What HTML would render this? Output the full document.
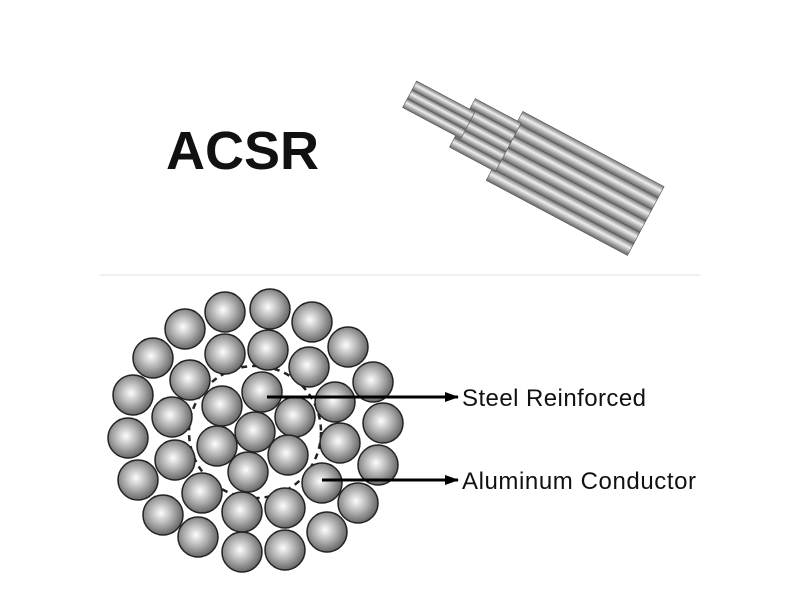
<!DOCTYPE html>
<html><head><style>
body{margin:0;width:800px;height:600px;background:#fff;overflow:hidden;font-family:"Liberation Sans",sans-serif;position:relative}
</style></head><body>
<div style="position:absolute;left:166px;top:120px;font-size:54px;font-weight:bold;color:#111;letter-spacing:0px">ACSR</div>
<svg width="800" height="600" style="position:absolute;left:0;top:0">
<defs>
<radialGradient id="g" cx="45%" cy="45%" r="60%"><stop offset="0" stop-color="#fdfdfd"/><stop offset="0.5" stop-color="#aeaeae"/><stop offset="1" stop-color="#5a5a5a"/></radialGradient>
<linearGradient id="w" x1="0" y1="0" x2="0" y2="1"><stop offset="0" stop-color="#777"/><stop offset="0.4" stop-color="#eee"/><stop offset="1" stop-color="#666"/></linearGradient>
<marker id="a" markerWidth="14" markerHeight="10" refX="13" refY="5" orient="auto" markerUnits="userSpaceOnUse"><path d="M0,0L14,5L0,10z" fill="#000"/></marker>
</defs>
<line x1="100" y1="275" x2="700" y2="275" stroke="#f0f0f0" stroke-width="2"/>
<g transform="translate(-15,-5) rotate(28 520 150)">
<g fill="url(#w)" stroke="#555" stroke-width="0.6">
<rect x="520" y="112" width="160" height="13"/><rect x="520" y="125" width="160" height="13"/><rect x="520" y="138" width="160" height="13"/><rect x="520" y="151" width="160" height="13"/><rect x="520" y="164" width="160" height="13"/><rect x="520" y="177" width="160" height="13"/>
<rect x="472" y="123" width="52" height="11"/><rect x="472" y="134" width="52" height="11"/><rect x="472" y="145" width="52" height="11"/><rect x="472" y="156" width="52" height="11"/><rect x="472" y="167" width="52" height="11"/>
<rect x="412" y="135" width="66" height="10"/><rect x="412" y="145" width="66" height="10"/><rect x="412" y="155" width="66" height="10"/>
</g></g>
<circle cx="255" cy="432" r="66" fill="none" stroke="#222" stroke-width="2.5" stroke-dasharray="6,5"/>
<g fill="url(#g)" stroke="#222" stroke-width="1.5">
<circle cx="225" cy="312" r="20"/><circle cx="270" cy="309" r="20"/><circle cx="312" cy="322" r="20"/><circle cx="348" cy="347" r="20"/><circle cx="373" cy="382" r="20"/><circle cx="383" cy="423" r="20"/><circle cx="378" cy="465" r="20"/><circle cx="358" cy="503" r="20"/><circle cx="327" cy="532" r="20"/><circle cx="285" cy="550" r="20"/><circle cx="242" cy="552" r="20"/><circle cx="198" cy="537" r="20"/><circle cx="163" cy="515" r="20"/><circle cx="138" cy="480" r="20"/><circle cx="128" cy="438" r="20"/><circle cx="133" cy="395" r="20"/><circle cx="153" cy="358" r="20"/><circle cx="185" cy="329" r="20"/>
<circle cx="225" cy="354" r="20"/><circle cx="268" cy="350" r="20"/><circle cx="309" cy="367" r="20"/><circle cx="335" cy="402" r="20"/><circle cx="340" cy="443" r="20"/><circle cx="322" cy="483" r="20"/><circle cx="285" cy="508" r="20"/><circle cx="242" cy="512" r="20"/><circle cx="202" cy="493" r="20"/><circle cx="175" cy="460" r="20"/><circle cx="172" cy="417" r="20"/><circle cx="190" cy="380" r="20"/>
<circle cx="262" cy="392" r="20"/><circle cx="222" cy="406" r="20"/><circle cx="295" cy="417" r="20"/><circle cx="255" cy="432" r="20"/><circle cx="217" cy="446" r="20"/><circle cx="288" cy="455" r="20"/><circle cx="248" cy="472" r="20"/>
</g>
<line x1="267" y1="397" x2="458" y2="397" stroke="#000" stroke-width="3" marker-end="url(#a)"/>
<line x1="322" y1="480" x2="458" y2="480" stroke="#000" stroke-width="3" marker-end="url(#a)"/>
<text x="462" y="406" font-size="24" textLength="184" font-family="Liberation Sans, sans-serif" fill="#111">Steel Reinforced</text>
<text x="462" y="489" font-size="24" textLength="234" font-family="Liberation Sans, sans-serif" fill="#111">Aluminum Conductor</text>
</svg>
</body></html>
